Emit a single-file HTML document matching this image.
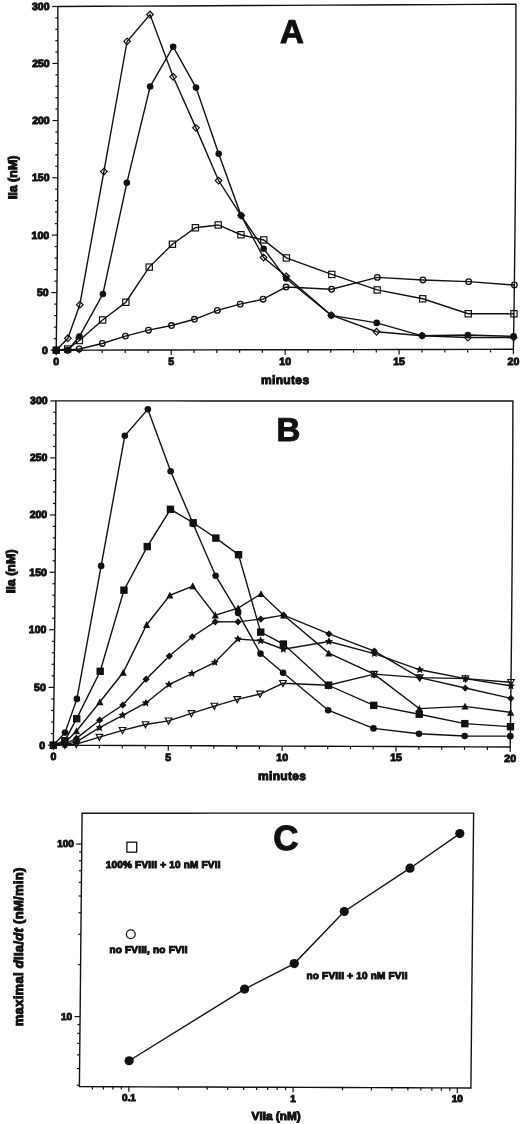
<!DOCTYPE html>
<html><head><meta charset="utf-8"><style>
html,body{margin:0;padding:0;background:#fff;}
body{width:520px;height:1124px;overflow:hidden;}
svg{display:block;filter:grayscale(1);}
svg text{font-family:"Liberation Sans",sans-serif;font-weight:bold;fill:#111;text-rendering:geometricPrecision;}
</style></head><body>
<svg width="520" height="1124" viewBox="0 0 520 1124" stroke="#111" stroke-linecap="butt" stroke-linejoin="miter">
<path d="M57.8,6.5 L96.21,6.31 L134.62,6.12 L173.02,5.93 L211.1,5.73 L249.18,5.54 L287.25,5.35 L325.29,5.16 L363.33,4.97 L401.38,4.77 L439.55,4.58 L477.72,4.39 L515.9,4.2 L515.94,32.77 L515.93,61.38 L515.88,90.02 L515.78,118.7 L515.64,147.41 L515.45,176.15 L515.22,204.93 L514.94,233.73 L514.62,262.57 L514.26,291.45 L513.85,320.36 L513.4,349.3 L475.3,349.38 L437.2,349.45 L399.1,349.52 L361.13,349.6 L323.17,349.68 L285.2,349.75 L247.2,349.82 L209.2,349.9 L171.2,349.98 L132.87,350.05 L94.53,350.12 L56.2,350.2 L56.58,321.38 L56.91,292.58 L57.2,263.82 L57.44,235.1 L57.64,206.41 L57.8,177.75 L57.91,149.12 L57.98,120.53 L58,91.98 L57.98,63.45 L57.91,34.96 Z" fill="none" stroke-width="1.4"/>
<line x1="50.7" y1="350.2" x2="56.2" y2="350.2" stroke-width="1.2"/>
<text x="47.9" y="353.6" font-size="10.5" text-anchor="end">0</text>
<line x1="53.76" y1="338.67" x2="56.36" y2="338.67" stroke-width="1.2"/>
<line x1="53.91" y1="327.14" x2="56.51" y2="327.14" stroke-width="1.2"/>
<line x1="54.05" y1="315.61" x2="56.65" y2="315.61" stroke-width="1.2"/>
<line x1="54.18" y1="304.1" x2="56.78" y2="304.1" stroke-width="1.2"/>
<line x1="51.41" y1="292.58" x2="56.91" y2="292.58" stroke-width="1.2"/>
<text x="48.61" y="295.98" font-size="10.5" text-anchor="end">50</text>
<line x1="54.43" y1="281.08" x2="57.03" y2="281.08" stroke-width="1.2"/>
<line x1="54.55" y1="269.57" x2="57.15" y2="269.57" stroke-width="1.2"/>
<line x1="54.65" y1="258.08" x2="57.25" y2="258.08" stroke-width="1.2"/>
<line x1="54.75" y1="246.59" x2="57.35" y2="246.59" stroke-width="1.2"/>
<line x1="51.94" y1="235.1" x2="57.44" y2="235.1" stroke-width="1.2"/>
<text x="49.14" y="238.5" font-size="10.5" text-anchor="end">100</text>
<line x1="54.93" y1="223.62" x2="57.53" y2="223.62" stroke-width="1.2"/>
<line x1="55.01" y1="212.14" x2="57.61" y2="212.14" stroke-width="1.2"/>
<line x1="55.08" y1="200.67" x2="57.68" y2="200.67" stroke-width="1.2"/>
<line x1="55.14" y1="189.21" x2="57.74" y2="189.21" stroke-width="1.2"/>
<line x1="52.3" y1="177.75" x2="57.8" y2="177.75" stroke-width="1.2"/>
<text x="49.5" y="181.15" font-size="10.5" text-anchor="end">150</text>
<line x1="55.25" y1="166.3" x2="57.85" y2="166.3" stroke-width="1.2"/>
<line x1="55.29" y1="154.85" x2="57.89" y2="154.85" stroke-width="1.2"/>
<line x1="55.33" y1="143.4" x2="57.93" y2="143.4" stroke-width="1.2"/>
<line x1="55.36" y1="131.97" x2="57.96" y2="131.97" stroke-width="1.2"/>
<line x1="52.48" y1="120.53" x2="57.98" y2="120.53" stroke-width="1.2"/>
<text x="49.68" y="123.93" font-size="10.5" text-anchor="end">200</text>
<line x1="55.39" y1="109.11" x2="57.99" y2="109.11" stroke-width="1.2"/>
<line x1="55.4" y1="97.68" x2="58" y2="97.68" stroke-width="1.2"/>
<line x1="55.4" y1="86.27" x2="58" y2="86.27" stroke-width="1.2"/>
<line x1="55.39" y1="74.86" x2="57.99" y2="74.86" stroke-width="1.2"/>
<line x1="52.48" y1="63.45" x2="57.98" y2="63.45" stroke-width="1.2"/>
<text x="49.68" y="66.85" font-size="10.5" text-anchor="end">250</text>
<line x1="55.36" y1="52.05" x2="57.96" y2="52.05" stroke-width="1.2"/>
<line x1="55.33" y1="40.65" x2="57.93" y2="40.65" stroke-width="1.2"/>
<line x1="55.29" y1="29.26" x2="57.89" y2="29.26" stroke-width="1.2"/>
<line x1="55.25" y1="17.88" x2="57.85" y2="17.88" stroke-width="1.2"/>
<line x1="52.3" y1="6.5" x2="57.8" y2="6.5" stroke-width="1.2"/>
<text x="49.5" y="9.9" font-size="10.5" text-anchor="end">300</text>
<line x1="56.2" y1="350.2" x2="56.2" y2="355.2" stroke-width="1.2"/>
<text x="56.2" y="365.4" font-size="10.5" text-anchor="middle">0</text>
<line x1="79.2" y1="350.15" x2="79.2" y2="353.15" stroke-width="1.2"/>
<line x1="102.2" y1="350.11" x2="102.2" y2="353.11" stroke-width="1.2"/>
<line x1="125.2" y1="350.06" x2="125.2" y2="353.06" stroke-width="1.2"/>
<line x1="148.2" y1="350.02" x2="148.2" y2="353.02" stroke-width="1.2"/>
<line x1="171.2" y1="349.98" x2="171.2" y2="354.98" stroke-width="1.2"/>
<text x="171.2" y="365.18" font-size="10.5" text-anchor="middle">5</text>
<line x1="194" y1="349.93" x2="194" y2="352.93" stroke-width="1.2"/>
<line x1="216.8" y1="349.88" x2="216.8" y2="352.88" stroke-width="1.2"/>
<line x1="239.6" y1="349.84" x2="239.6" y2="352.84" stroke-width="1.2"/>
<line x1="262.4" y1="349.8" x2="262.4" y2="352.8" stroke-width="1.2"/>
<line x1="285.2" y1="349.75" x2="285.2" y2="354.75" stroke-width="1.2"/>
<text x="285.2" y="364.95" font-size="10.5" text-anchor="middle">10</text>
<line x1="307.98" y1="349.7" x2="307.98" y2="352.7" stroke-width="1.2"/>
<line x1="330.76" y1="349.66" x2="330.76" y2="352.66" stroke-width="1.2"/>
<line x1="353.54" y1="349.62" x2="353.54" y2="352.62" stroke-width="1.2"/>
<line x1="376.32" y1="349.57" x2="376.32" y2="352.57" stroke-width="1.2"/>
<line x1="399.1" y1="349.52" x2="399.1" y2="354.52" stroke-width="1.2"/>
<text x="399.1" y="364.72" font-size="10.5" text-anchor="middle">15</text>
<line x1="421.96" y1="349.48" x2="421.96" y2="352.48" stroke-width="1.2"/>
<line x1="444.82" y1="349.44" x2="444.82" y2="352.44" stroke-width="1.2"/>
<line x1="467.68" y1="349.39" x2="467.68" y2="352.39" stroke-width="1.2"/>
<line x1="490.54" y1="349.35" x2="490.54" y2="352.35" stroke-width="1.2"/>
<line x1="513.4" y1="349.3" x2="513.4" y2="354.3" stroke-width="1.2"/>
<text x="513.4" y="364.5" font-size="10.5" text-anchor="middle">20</text>
<text x="285.2" y="383.8" font-size="12" text-anchor="middle" letter-spacing="0.35">minutes</text>
<text x="0" y="0" font-size="12.5" text-anchor="middle" transform="translate(16.8,177.4) rotate(-90)">IIa (nM)</text>
<text x="291.8" y="42.9" font-size="33" text-anchor="middle">A</text>
<path d="M56.2,350.2 L67.7,350.18 L79.22,349.01 L102.29,343.46 L125.4,336.08 L148.48,330.18 L171.54,325.55 L194.43,319.3 L217.34,310.42 L240.23,304.17 L263.1,299.18 L286.05,287.07 L331.6,289.25 L377.32,277.42 L422.94,279.94 L468.66,281.66 L514.35,285" fill="none" stroke-width="1.4"/>
<circle cx="56.2" cy="350.2" r="2.8" fill="none" stroke-width="1.3"/>
<circle cx="67.7" cy="350.18" r="2.8" fill="none" stroke-width="1.3"/>
<circle cx="79.22" cy="349.01" r="2.8" fill="none" stroke-width="1.3"/>
<circle cx="102.29" cy="343.46" r="2.8" fill="none" stroke-width="1.3"/>
<circle cx="125.4" cy="336.08" r="2.8" fill="none" stroke-width="1.3"/>
<circle cx="148.48" cy="330.18" r="2.8" fill="none" stroke-width="1.3"/>
<circle cx="171.54" cy="325.55" r="2.8" fill="none" stroke-width="1.3"/>
<circle cx="194.43" cy="319.3" r="2.8" fill="none" stroke-width="1.3"/>
<circle cx="217.34" cy="310.42" r="2.8" fill="none" stroke-width="1.3"/>
<circle cx="240.23" cy="304.17" r="2.8" fill="none" stroke-width="1.3"/>
<circle cx="263.1" cy="299.18" r="2.8" fill="none" stroke-width="1.3"/>
<circle cx="286.05" cy="287.07" r="2.8" fill="none" stroke-width="1.3"/>
<circle cx="331.6" cy="289.25" r="2.8" fill="none" stroke-width="1.3"/>
<circle cx="377.32" cy="277.42" r="2.8" fill="none" stroke-width="1.3"/>
<circle cx="422.94" cy="279.94" r="2.8" fill="none" stroke-width="1.3"/>
<circle cx="468.66" cy="281.66" r="2.8" fill="none" stroke-width="1.3"/>
<circle cx="514.35" cy="285" r="2.8" fill="none" stroke-width="1.3"/>
<path d="M56.2,350.2 L67.72,349.03 L79.33,340.53 L102.6,319.97 L125.82,302.26 L149.21,267.12 L172.44,244.24 L195.4,227.77 L218.24,224.94 L240.97,234.74 L263.73,239.95 L286.37,257.91 L331.77,274.44 L377.16,289.94 L422.7,298.79 L468.23,313.74 L513.95,313.75" fill="none" stroke-width="1.4"/>
<rect x="53.07" y="347.06" width="6.27" height="6.27" fill="none" stroke-width="1.2"/>
<rect x="64.58" y="345.9" width="6.27" height="6.27" fill="none" stroke-width="1.2"/>
<rect x="76.2" y="337.39" width="6.27" height="6.27" fill="none" stroke-width="1.2"/>
<rect x="99.47" y="316.83" width="6.27" height="6.27" fill="none" stroke-width="1.2"/>
<rect x="122.69" y="299.13" width="6.27" height="6.27" fill="none" stroke-width="1.2"/>
<rect x="146.08" y="263.99" width="6.27" height="6.27" fill="none" stroke-width="1.2"/>
<rect x="169.31" y="241.1" width="6.27" height="6.27" fill="none" stroke-width="1.2"/>
<rect x="192.26" y="224.63" width="6.27" height="6.27" fill="none" stroke-width="1.2"/>
<rect x="215.1" y="221.81" width="6.27" height="6.27" fill="none" stroke-width="1.2"/>
<rect x="237.83" y="231.61" width="6.27" height="6.27" fill="none" stroke-width="1.2"/>
<rect x="260.6" y="236.82" width="6.27" height="6.27" fill="none" stroke-width="1.2"/>
<rect x="283.24" y="254.78" width="6.27" height="6.27" fill="none" stroke-width="1.2"/>
<rect x="328.64" y="271.3" width="6.27" height="6.27" fill="none" stroke-width="1.2"/>
<rect x="374.03" y="286.81" width="6.27" height="6.27" fill="none" stroke-width="1.2"/>
<rect x="419.57" y="295.66" width="6.27" height="6.27" fill="none" stroke-width="1.2"/>
<rect x="465.09" y="310.61" width="6.27" height="6.27" fill="none" stroke-width="1.2"/>
<rect x="510.82" y="310.62" width="6.27" height="6.27" fill="none" stroke-width="1.2"/>
<path d="M56.2,350.2 L67.86,338.26 L79.78,304.78 L103.88,171.54 L127.05,41.46 L150.01,14.52 L173.17,76.8 L195.94,127.86 L218.54,180.54 L241.13,215.58 L263.57,257.51 L286.17,276.28 L331.26,315.21 L376.59,331.76 L422.18,335.69 L467.87,337.55 L513.59,337.45" fill="none" stroke-width="1.4"/>
<path d="M56.2,346.9 L59.5,350.2 L56.2,353.5 L52.9,350.2 Z" fill="none" stroke-width="1.2"/>
<path d="M67.86,334.96 L71.16,338.26 L67.86,341.56 L64.56,338.26 Z" fill="none" stroke-width="1.2"/>
<path d="M79.78,301.48 L83.08,304.78 L79.78,308.08 L76.48,304.78 Z" fill="none" stroke-width="1.2"/>
<path d="M103.88,168.24 L107.18,171.54 L103.88,174.84 L100.58,171.54 Z" fill="none" stroke-width="1.2"/>
<path d="M127.05,38.16 L130.35,41.46 L127.05,44.76 L123.75,41.46 Z" fill="none" stroke-width="1.2"/>
<path d="M150.01,11.22 L153.31,14.52 L150.01,17.82 L146.71,14.52 Z" fill="none" stroke-width="1.2"/>
<path d="M173.17,73.5 L176.47,76.8 L173.17,80.1 L169.87,76.8 Z" fill="none" stroke-width="1.2"/>
<path d="M195.94,124.56 L199.24,127.86 L195.94,131.16 L192.64,127.86 Z" fill="none" stroke-width="1.2"/>
<path d="M218.54,177.24 L221.84,180.54 L218.54,183.84 L215.24,180.54 Z" fill="none" stroke-width="1.2"/>
<path d="M241.13,212.28 L244.43,215.58 L241.13,218.88 L237.83,215.58 Z" fill="none" stroke-width="1.2"/>
<path d="M263.57,254.21 L266.87,257.51 L263.57,260.81 L260.27,257.51 Z" fill="none" stroke-width="1.2"/>
<path d="M286.17,272.98 L289.47,276.28 L286.17,279.58 L282.87,276.28 Z" fill="none" stroke-width="1.2"/>
<path d="M331.26,311.91 L334.56,315.21 L331.26,318.51 L327.96,315.21 Z" fill="none" stroke-width="1.2"/>
<path d="M376.59,328.46 L379.89,331.76 L376.59,335.06 L373.29,331.76 Z" fill="none" stroke-width="1.2"/>
<path d="M422.18,332.39 L425.48,335.69 L422.18,338.99 L418.88,335.69 Z" fill="none" stroke-width="1.2"/>
<path d="M467.87,334.25 L471.17,337.55 L467.87,340.85 L464.57,337.55 Z" fill="none" stroke-width="1.2"/>
<path d="M513.59,334.15 L516.89,337.45 L513.59,340.75 L510.29,337.45 Z" fill="none" stroke-width="1.2"/>
<path d="M56.2,350.2 L67.7,350.18 L79.39,336.52 L102.91,293.95 L126.84,182.81 L150.14,86.53 L173.14,46.75 L196.01,87.6 L218.68,153.7 L241.13,215.58 L263.65,248.68 L286.15,278.57 L331.26,315.44 L376.72,322.91 L422.17,335.8 L467.91,335.02 L513.61,336.3" fill="none" stroke-width="1.4"/>
<circle cx="56.2" cy="350.2" r="3.3" fill="#111" stroke="none"/>
<circle cx="67.7" cy="350.18" r="3.3" fill="#111" stroke="none"/>
<circle cx="79.39" cy="336.52" r="3.3" fill="#111" stroke="none"/>
<circle cx="102.91" cy="293.95" r="3.3" fill="#111" stroke="none"/>
<circle cx="126.84" cy="182.81" r="3.3" fill="#111" stroke="none"/>
<circle cx="150.14" cy="86.53" r="3.3" fill="#111" stroke="none"/>
<circle cx="173.14" cy="46.75" r="3.3" fill="#111" stroke="none"/>
<circle cx="196.01" cy="87.6" r="3.3" fill="#111" stroke="none"/>
<circle cx="218.68" cy="153.7" r="3.3" fill="#111" stroke="none"/>
<circle cx="241.13" cy="215.58" r="3.3" fill="#111" stroke="none"/>
<circle cx="263.65" cy="248.68" r="3.3" fill="#111" stroke="none"/>
<circle cx="286.15" cy="278.57" r="3.3" fill="#111" stroke="none"/>
<circle cx="331.26" cy="315.44" r="3.3" fill="#111" stroke="none"/>
<circle cx="376.72" cy="322.91" r="3.3" fill="#111" stroke="none"/>
<circle cx="422.17" cy="335.8" r="3.3" fill="#111" stroke="none"/>
<circle cx="467.91" cy="335.02" r="3.3" fill="#111" stroke="none"/>
<circle cx="513.61" cy="336.3" r="3.3" fill="#111" stroke="none"/>
<path d="M55.9,400.9 L94.22,400.91 L132.53,400.92 L170.85,400.92 L208.83,400.93 L246.82,400.94 L284.8,400.95 L322.75,400.96 L360.7,400.97 L398.65,400.98 L436.73,400.98 L474.82,400.99 L512.9,401 L512.83,429.59 L512.73,458.22 L512.6,486.9 L512.44,515.62 L512.26,544.39 L512.05,573.2 L511.81,602.06 L511.54,630.96 L511.25,659.9 L510.93,688.89 L510.58,717.92 L510.2,747 L472.13,746.85 L434.06,746.7 L395.99,746.55 L358.05,746.4 L320.11,746.25 L282.17,746.1 L244.2,745.95 L206.23,745.8 L168.26,745.65 L129.96,745.5 L91.65,745.35 L53.35,745.2 L53.72,716.26 L54.05,687.37 L54.36,658.52 L54.64,629.72 L54.9,600.96 L55.12,572.25 L55.32,543.58 L55.49,514.96 L55.64,486.38 L55.75,457.84 L55.84,429.35 Z" fill="none" stroke-width="1.4"/>
<line x1="47.85" y1="745.2" x2="53.35" y2="745.2" stroke-width="1.2"/>
<text x="45.05" y="748.6" font-size="10.5" text-anchor="end">0</text>
<line x1="50.9" y1="733.62" x2="53.5" y2="733.62" stroke-width="1.2"/>
<line x1="51.04" y1="722.05" x2="53.64" y2="722.05" stroke-width="1.2"/>
<line x1="51.19" y1="710.48" x2="53.79" y2="710.48" stroke-width="1.2"/>
<line x1="51.32" y1="698.92" x2="53.92" y2="698.92" stroke-width="1.2"/>
<line x1="48.55" y1="687.37" x2="54.05" y2="687.37" stroke-width="1.2"/>
<text x="45.75" y="690.77" font-size="10.5" text-anchor="end">50</text>
<line x1="51.58" y1="675.83" x2="54.18" y2="675.83" stroke-width="1.2"/>
<line x1="51.7" y1="664.29" x2="54.3" y2="664.29" stroke-width="1.2"/>
<line x1="51.82" y1="652.76" x2="54.42" y2="652.76" stroke-width="1.2"/>
<line x1="51.94" y1="641.24" x2="54.54" y2="641.24" stroke-width="1.2"/>
<line x1="49.14" y1="629.72" x2="54.64" y2="629.72" stroke-width="1.2"/>
<text x="46.34" y="633.12" font-size="10.5" text-anchor="end">100</text>
<line x1="52.15" y1="618.21" x2="54.75" y2="618.21" stroke-width="1.2"/>
<line x1="52.25" y1="606.71" x2="54.85" y2="606.71" stroke-width="1.2"/>
<line x1="52.35" y1="595.22" x2="54.95" y2="595.22" stroke-width="1.2"/>
<line x1="52.44" y1="583.73" x2="55.04" y2="583.73" stroke-width="1.2"/>
<line x1="49.62" y1="572.25" x2="55.12" y2="572.25" stroke-width="1.2"/>
<text x="46.83" y="575.65" font-size="10.5" text-anchor="end">150</text>
<line x1="52.61" y1="560.78" x2="55.21" y2="560.78" stroke-width="1.2"/>
<line x1="52.69" y1="549.31" x2="55.29" y2="549.31" stroke-width="1.2"/>
<line x1="52.76" y1="537.85" x2="55.36" y2="537.85" stroke-width="1.2"/>
<line x1="52.83" y1="526.4" x2="55.43" y2="526.4" stroke-width="1.2"/>
<line x1="49.99" y1="514.96" x2="55.49" y2="514.96" stroke-width="1.2"/>
<text x="47.19" y="518.36" font-size="10.5" text-anchor="end">200</text>
<line x1="52.95" y1="503.52" x2="55.55" y2="503.52" stroke-width="1.2"/>
<line x1="53.01" y1="492.09" x2="55.61" y2="492.09" stroke-width="1.2"/>
<line x1="53.06" y1="480.66" x2="55.66" y2="480.66" stroke-width="1.2"/>
<line x1="53.11" y1="469.25" x2="55.71" y2="469.25" stroke-width="1.2"/>
<line x1="50.25" y1="457.84" x2="55.75" y2="457.84" stroke-width="1.2"/>
<text x="47.45" y="461.24" font-size="10.5" text-anchor="end">250</text>
<line x1="53.19" y1="446.44" x2="55.79" y2="446.44" stroke-width="1.2"/>
<line x1="53.22" y1="435.04" x2="55.82" y2="435.04" stroke-width="1.2"/>
<line x1="53.25" y1="423.65" x2="55.85" y2="423.65" stroke-width="1.2"/>
<line x1="53.28" y1="412.27" x2="55.88" y2="412.27" stroke-width="1.2"/>
<line x1="50.4" y1="400.9" x2="55.9" y2="400.9" stroke-width="1.2"/>
<text x="47.6" y="404.3" font-size="10.5" text-anchor="end">300</text>
<line x1="53.35" y1="745.2" x2="53.35" y2="750.2" stroke-width="1.2"/>
<text x="53.35" y="760.1" font-size="10.5" text-anchor="middle">0</text>
<line x1="76.33" y1="745.29" x2="76.33" y2="748.29" stroke-width="1.2"/>
<line x1="99.31" y1="745.38" x2="99.31" y2="748.38" stroke-width="1.2"/>
<line x1="122.3" y1="745.47" x2="122.3" y2="748.47" stroke-width="1.2"/>
<line x1="145.28" y1="745.56" x2="145.28" y2="748.56" stroke-width="1.2"/>
<line x1="168.26" y1="745.65" x2="168.26" y2="750.65" stroke-width="1.2"/>
<text x="168.26" y="760.55" font-size="10.5" text-anchor="middle">5</text>
<line x1="191.04" y1="745.74" x2="191.04" y2="748.74" stroke-width="1.2"/>
<line x1="213.83" y1="745.83" x2="213.83" y2="748.83" stroke-width="1.2"/>
<line x1="236.61" y1="745.92" x2="236.61" y2="748.92" stroke-width="1.2"/>
<line x1="259.39" y1="746.01" x2="259.39" y2="749.01" stroke-width="1.2"/>
<line x1="282.17" y1="746.1" x2="282.17" y2="751.1" stroke-width="1.2"/>
<text x="282.17" y="761" font-size="10.5" text-anchor="middle">10</text>
<line x1="304.94" y1="746.19" x2="304.94" y2="749.19" stroke-width="1.2"/>
<line x1="327.7" y1="746.28" x2="327.7" y2="749.28" stroke-width="1.2"/>
<line x1="350.46" y1="746.37" x2="350.46" y2="749.37" stroke-width="1.2"/>
<line x1="373.22" y1="746.46" x2="373.22" y2="749.46" stroke-width="1.2"/>
<line x1="395.99" y1="746.55" x2="395.99" y2="751.55" stroke-width="1.2"/>
<text x="395.99" y="761.45" font-size="10.5" text-anchor="middle">15</text>
<line x1="418.83" y1="746.64" x2="418.83" y2="749.64" stroke-width="1.2"/>
<line x1="441.67" y1="746.73" x2="441.67" y2="749.73" stroke-width="1.2"/>
<line x1="464.51" y1="746.82" x2="464.51" y2="749.82" stroke-width="1.2"/>
<line x1="487.36" y1="746.91" x2="487.36" y2="749.91" stroke-width="1.2"/>
<line x1="510.2" y1="747" x2="510.2" y2="752" stroke-width="1.2"/>
<text x="510.2" y="761.9" font-size="10.5" text-anchor="middle">20</text>
<text x="282.17" y="780.2" font-size="12" text-anchor="middle" letter-spacing="0.35">minutes</text>
<text x="0" y="0" font-size="12.5" text-anchor="middle" transform="translate(14.6,571.3) rotate(-90)">IIa (nM)</text>
<text x="288.3" y="441" font-size="33" text-anchor="middle">B</text>
<path d="M53.35,745.2 L64.84,745.25 L76.35,744.14 L99.42,737.11 L122.49,730.31 L145.55,724.54 L168.58,720.83 L191.46,713.44 L214.33,706.05 L237.2,699.35 L260.04,694.02 L282.95,683.28 L328.46,685.27 L374.11,674.14 L419.68,677.62 L465.36,678.58 L511.01,682.3" fill="none" stroke-width="1.4"/>
<path d="M50.05,742.4 L56.65,742.4 L53.35,748.5 Z" fill="none" stroke-width="1.2"/>
<path d="M61.54,742.44 L68.14,742.44 L64.84,748.54 Z" fill="none" stroke-width="1.2"/>
<path d="M73.05,741.34 L79.65,741.34 L76.35,747.44 Z" fill="none" stroke-width="1.2"/>
<path d="M96.12,734.31 L102.72,734.31 L99.42,740.41 Z" fill="none" stroke-width="1.2"/>
<path d="M119.19,727.5 L125.79,727.5 L122.49,733.61 Z" fill="none" stroke-width="1.2"/>
<path d="M142.25,721.73 L148.85,721.73 L145.55,727.84 Z" fill="none" stroke-width="1.2"/>
<path d="M165.28,718.02 L171.88,718.02 L168.58,724.13 Z" fill="none" stroke-width="1.2"/>
<path d="M188.16,710.64 L194.76,710.64 L191.46,716.74 Z" fill="none" stroke-width="1.2"/>
<path d="M211.03,703.25 L217.63,703.25 L214.33,709.35 Z" fill="none" stroke-width="1.2"/>
<path d="M233.9,696.54 L240.5,696.54 L237.2,702.65 Z" fill="none" stroke-width="1.2"/>
<path d="M256.74,691.22 L263.34,691.22 L260.04,697.32 Z" fill="none" stroke-width="1.2"/>
<path d="M279.65,680.48 L286.25,680.48 L282.95,686.58 Z" fill="none" stroke-width="1.2"/>
<path d="M325.16,682.47 L331.76,682.47 L328.46,688.57 Z" fill="none" stroke-width="1.2"/>
<path d="M370.81,671.33 L377.41,671.33 L374.11,677.44 Z" fill="none" stroke-width="1.2"/>
<path d="M416.38,674.82 L422.98,674.82 L419.68,680.92 Z" fill="none" stroke-width="1.2"/>
<path d="M462.06,675.77 L468.66,675.77 L465.36,681.88 Z" fill="none" stroke-width="1.2"/>
<path d="M507.71,679.49 L514.31,679.49 L511.01,685.6 Z" fill="none" stroke-width="1.2"/>
<path d="M53.35,745.2 L64.85,744.67 L76.38,741.85 L99.54,727.7 L122.68,715.26 L145.82,702.94 L169.01,684.52 L191.92,673.56 L214.82,662.37 L237.85,638.98 L260.61,640.77 L283.32,649.23 L328.92,641.53 L374.33,653.64 L419.77,669.79 L465.36,678.58 L510.97,685.99" fill="none" stroke-width="1.4"/>
<path d="M53.35,740.91 L54.56,743.53 L57.43,743.87 L55.31,745.84 L55.87,748.67 L53.35,747.26 L50.83,748.67 L51.39,745.84 L49.27,743.87 L52.14,743.53 Z" fill="#111" stroke="none"/>
<path d="M64.85,740.38 L66.06,743.01 L68.93,743.35 L66.81,745.31 L67.37,748.14 L64.85,746.73 L62.33,748.14 L62.89,745.31 L60.77,743.35 L63.64,743.01 Z" fill="#111" stroke="none"/>
<path d="M76.38,737.56 L77.59,740.18 L80.46,740.52 L78.34,742.48 L78.9,745.32 L76.38,743.91 L73.86,745.32 L74.42,742.48 L72.3,740.52 L75.17,740.18 Z" fill="#111" stroke="none"/>
<path d="M99.54,723.41 L100.75,726.03 L103.62,726.37 L101.5,728.33 L102.07,731.17 L99.54,729.76 L97.02,731.17 L97.59,728.33 L95.46,726.37 L98.33,726.03 Z" fill="#111" stroke="none"/>
<path d="M122.68,710.97 L123.89,713.6 L126.76,713.94 L124.64,715.9 L125.2,718.73 L122.68,717.32 L120.16,718.73 L120.72,715.9 L118.6,713.94 L121.47,713.6 Z" fill="#111" stroke="none"/>
<path d="M145.82,698.65 L147.03,701.27 L149.9,701.61 L147.77,703.58 L148.34,706.41 L145.82,705 L143.29,706.41 L143.86,703.58 L141.74,701.61 L144.61,701.27 Z" fill="#111" stroke="none"/>
<path d="M169.01,680.23 L170.22,682.85 L173.09,683.19 L170.97,685.16 L171.53,687.99 L169.01,686.58 L166.49,687.99 L167.05,685.16 L164.93,683.19 L167.8,682.85 Z" fill="#111" stroke="none"/>
<path d="M191.92,669.27 L193.13,671.89 L196,672.23 L193.88,674.2 L194.44,677.03 L191.92,675.62 L189.4,677.03 L189.96,674.2 L187.84,672.23 L190.71,671.89 Z" fill="#111" stroke="none"/>
<path d="M214.82,658.08 L216.03,660.7 L218.9,661.04 L216.78,663 L217.35,665.84 L214.82,664.42 L212.3,665.84 L212.87,663 L210.74,661.04 L213.61,660.7 Z" fill="#111" stroke="none"/>
<path d="M237.85,634.69 L239.06,637.31 L241.93,637.65 L239.81,639.61 L240.37,642.45 L237.85,641.04 L235.33,642.45 L235.89,639.61 L233.77,637.65 L236.64,637.31 Z" fill="#111" stroke="none"/>
<path d="M260.61,636.48 L261.83,639.1 L264.69,639.44 L262.57,641.4 L263.14,644.24 L260.61,642.82 L258.09,644.24 L258.66,641.4 L256.53,639.44 L259.4,639.1 Z" fill="#111" stroke="none"/>
<path d="M283.32,644.94 L284.53,647.56 L287.4,647.9 L285.27,649.86 L285.84,652.7 L283.32,651.29 L280.79,652.7 L281.36,649.86 L279.24,647.9 L282.11,647.56 Z" fill="#111" stroke="none"/>
<path d="M328.92,637.24 L330.13,639.87 L333,640.21 L330.88,642.17 L331.45,645 L328.92,643.59 L326.4,645 L326.97,642.17 L324.84,640.21 L327.71,639.87 Z" fill="#111" stroke="none"/>
<path d="M374.33,649.35 L375.54,651.97 L378.41,652.31 L376.29,654.27 L376.85,657.11 L374.33,655.7 L371.81,657.11 L372.37,654.27 L370.25,652.31 L373.12,651.97 Z" fill="#111" stroke="none"/>
<path d="M419.77,665.5 L420.98,668.12 L423.85,668.46 L421.73,670.42 L422.29,673.26 L419.77,671.85 L417.25,673.26 L417.81,670.42 L415.69,668.46 L418.56,668.12 Z" fill="#111" stroke="none"/>
<path d="M465.36,674.29 L466.57,676.91 L469.44,677.25 L467.32,679.21 L467.88,682.05 L465.36,680.64 L462.84,682.05 L463.4,679.21 L461.28,677.25 L464.15,676.91 Z" fill="#111" stroke="none"/>
<path d="M510.97,681.7 L512.18,684.32 L515.05,684.66 L512.92,686.62 L513.49,689.46 L510.97,688.05 L508.44,689.46 L509.01,686.62 L506.89,684.66 L509.76,684.32 Z" fill="#111" stroke="none"/>
<path d="M53.35,745.2 L64.86,744.1 L76.42,738.4 L99.64,720.23 L122.81,705.04 L146.09,679.16 L169.32,656.02 L192.3,636.78 L215.22,621.78 L238.01,621.84 L260.82,619.03 L283.64,615.17 L329,633.94 L374.36,651.1 L419.68,677.62 L465.25,688.03 L510.82,698.33" fill="none" stroke-width="1.4"/>
<path d="M53.35,741.57 L56.98,745.2 L53.35,748.83 L49.72,745.2 Z" fill="#111" stroke="none"/>
<path d="M64.86,740.47 L68.49,744.1 L64.86,747.73 L61.23,744.1 Z" fill="#111" stroke="none"/>
<path d="M76.42,734.77 L80.05,738.4 L76.42,742.03 L72.79,738.4 Z" fill="#111" stroke="none"/>
<path d="M99.64,716.6 L103.27,720.23 L99.64,723.86 L96.01,720.23 Z" fill="#111" stroke="none"/>
<path d="M122.81,701.41 L126.44,705.04 L122.81,708.67 L119.18,705.04 Z" fill="#111" stroke="none"/>
<path d="M146.09,675.53 L149.72,679.16 L146.09,682.79 L142.46,679.16 Z" fill="#111" stroke="none"/>
<path d="M169.32,652.39 L172.95,656.02 L169.32,659.65 L165.69,656.02 Z" fill="#111" stroke="none"/>
<path d="M192.3,633.15 L195.93,636.78 L192.3,640.41 L188.67,636.78 Z" fill="#111" stroke="none"/>
<path d="M215.22,618.15 L218.85,621.78 L215.22,625.41 L211.59,621.78 Z" fill="#111" stroke="none"/>
<path d="M238.01,618.21 L241.64,621.84 L238.01,625.47 L234.38,621.84 Z" fill="#111" stroke="none"/>
<path d="M260.82,615.4 L264.45,619.03 L260.82,622.66 L257.19,619.03 Z" fill="#111" stroke="none"/>
<path d="M283.64,611.54 L287.27,615.17 L283.64,618.8 L280.01,615.17 Z" fill="#111" stroke="none"/>
<path d="M329,630.31 L332.63,633.94 L329,637.57 L325.37,633.94 Z" fill="#111" stroke="none"/>
<path d="M374.36,647.47 L377.99,651.1 L374.36,654.73 L370.73,651.1 Z" fill="#111" stroke="none"/>
<path d="M419.68,673.99 L423.31,677.62 L419.68,681.25 L416.05,677.62 Z" fill="#111" stroke="none"/>
<path d="M465.25,684.4 L468.88,688.03 L465.25,691.66 L461.62,688.03 Z" fill="#111" stroke="none"/>
<path d="M510.82,694.7 L514.45,698.33 L510.82,701.96 L507.19,698.33 Z" fill="#111" stroke="none"/>
<path d="M53.35,745.2 L64.87,742.95 L76.52,730.94 L99.86,701.98 L123.18,672.54 L146.64,624.71 L169.88,595.23 L192.74,585.98 L215.28,615.11 L238.13,608.16 L261.04,593.84 L283.64,615.17 L328.81,653.16 L374.11,674.14 L419.32,708.62 L465.04,706.36 L510.65,712.4" fill="none" stroke-width="1.4"/>
<path d="M53.35,741.57 L56.98,748.47 L49.72,748.47 Z" fill="#111" stroke="none"/>
<path d="M64.87,739.32 L68.5,746.22 L61.24,746.22 Z" fill="#111" stroke="none"/>
<path d="M76.52,727.31 L80.15,734.21 L72.89,734.21 Z" fill="#111" stroke="none"/>
<path d="M99.86,698.35 L103.49,705.24 L96.23,705.24 Z" fill="#111" stroke="none"/>
<path d="M123.18,668.91 L126.81,675.81 L119.55,675.81 Z" fill="#111" stroke="none"/>
<path d="M146.64,621.08 L150.27,627.97 L143.01,627.97 Z" fill="#111" stroke="none"/>
<path d="M169.88,591.6 L173.51,598.5 L166.25,598.5 Z" fill="#111" stroke="none"/>
<path d="M192.74,582.35 L196.37,589.25 L189.11,589.25 Z" fill="#111" stroke="none"/>
<path d="M215.28,611.48 L218.91,618.38 L211.65,618.38 Z" fill="#111" stroke="none"/>
<path d="M238.13,604.53 L241.76,611.42 L234.5,611.42 Z" fill="#111" stroke="none"/>
<path d="M261.04,590.21 L264.67,597.1 L257.41,597.1 Z" fill="#111" stroke="none"/>
<path d="M283.64,611.54 L287.27,618.44 L280.01,618.44 Z" fill="#111" stroke="none"/>
<path d="M328.81,649.53 L332.44,656.43 L325.18,656.43 Z" fill="#111" stroke="none"/>
<path d="M374.11,670.51 L377.74,677.4 L370.48,677.4 Z" fill="#111" stroke="none"/>
<path d="M419.32,704.99 L422.95,711.88 L415.69,711.88 Z" fill="#111" stroke="none"/>
<path d="M465.04,702.73 L468.67,709.62 L461.41,709.62 Z" fill="#111" stroke="none"/>
<path d="M510.65,708.77 L514.28,715.67 L507.02,715.67 Z" fill="#111" stroke="none"/>
<path d="M53.35,745.2 L64.9,740.65 L76.67,718.66 L100.2,671.32 L123.95,590.19 L147.26,546.59 L170.47,509.28 L193.18,522.76 L215.87,538.09 L238.55,554.69 L260.7,632.14 L283.37,644.05 L328.46,685.27 L373.75,705.35 L419.25,714.26 L464.82,723.65 L510.47,726.7" fill="none" stroke-width="1.4"/>
<rect x="49.65" y="741.5" width="7.39" height="7.39" fill="#111" stroke="none"/>
<rect x="61.21" y="736.96" width="7.39" height="7.39" fill="#111" stroke="none"/>
<rect x="72.98" y="714.96" width="7.39" height="7.39" fill="#111" stroke="none"/>
<rect x="96.51" y="667.62" width="7.39" height="7.39" fill="#111" stroke="none"/>
<rect x="120.26" y="586.49" width="7.39" height="7.39" fill="#111" stroke="none"/>
<rect x="143.56" y="542.89" width="7.39" height="7.39" fill="#111" stroke="none"/>
<rect x="166.77" y="505.59" width="7.39" height="7.39" fill="#111" stroke="none"/>
<rect x="189.48" y="519.07" width="7.39" height="7.39" fill="#111" stroke="none"/>
<rect x="212.18" y="534.39" width="7.39" height="7.39" fill="#111" stroke="none"/>
<rect x="234.85" y="550.99" width="7.39" height="7.39" fill="#111" stroke="none"/>
<rect x="257" y="628.44" width="7.39" height="7.39" fill="#111" stroke="none"/>
<rect x="279.67" y="640.35" width="7.39" height="7.39" fill="#111" stroke="none"/>
<rect x="324.76" y="681.58" width="7.39" height="7.39" fill="#111" stroke="none"/>
<rect x="370.05" y="701.65" width="7.39" height="7.39" fill="#111" stroke="none"/>
<rect x="415.55" y="710.57" width="7.39" height="7.39" fill="#111" stroke="none"/>
<rect x="461.12" y="719.95" width="7.39" height="7.39" fill="#111" stroke="none"/>
<rect x="506.77" y="723.01" width="7.39" height="7.39" fill="#111" stroke="none"/>
<path d="M53.35,745.2 L65.01,732.62 L76.91,698.91 L101.15,565.91 L124.79,435.83 L147.84,409.31 L170.65,471.25 L193.17,523.91 L215.61,575.68 L238.09,613.1 L260.49,653.65 L283.07,672.81 L328.16,710.25 L373.46,728.38 L419,733.74 L464.66,735.98 L510.35,736.16" fill="none" stroke-width="1.4"/>
<circle cx="53.35" cy="745.2" r="3.3" fill="#111" stroke="none"/>
<circle cx="65.01" cy="732.62" r="3.3" fill="#111" stroke="none"/>
<circle cx="76.91" cy="698.91" r="3.3" fill="#111" stroke="none"/>
<circle cx="101.15" cy="565.91" r="3.3" fill="#111" stroke="none"/>
<circle cx="124.79" cy="435.83" r="3.3" fill="#111" stroke="none"/>
<circle cx="147.84" cy="409.31" r="3.3" fill="#111" stroke="none"/>
<circle cx="170.65" cy="471.25" r="3.3" fill="#111" stroke="none"/>
<circle cx="193.17" cy="523.91" r="3.3" fill="#111" stroke="none"/>
<circle cx="215.61" cy="575.68" r="3.3" fill="#111" stroke="none"/>
<circle cx="238.09" cy="613.1" r="3.3" fill="#111" stroke="none"/>
<circle cx="260.49" cy="653.65" r="3.3" fill="#111" stroke="none"/>
<circle cx="283.07" cy="672.81" r="3.3" fill="#111" stroke="none"/>
<circle cx="328.16" cy="710.25" r="3.3" fill="#111" stroke="none"/>
<circle cx="373.46" cy="728.38" r="3.3" fill="#111" stroke="none"/>
<circle cx="419" cy="733.74" r="3.3" fill="#111" stroke="none"/>
<circle cx="464.66" cy="735.98" r="3.3" fill="#111" stroke="none"/>
<circle cx="510.35" cy="736.16" r="3.3" fill="#111" stroke="none"/>
<path d="M82.1,813.2 L114.72,813.19 L147.35,813.18 L179.97,813.18 L212.6,813.17 L245.22,813.16 L277.85,813.15 L310.48,813.14 L343.1,813.13 L375.73,813.12 L408.35,813.12 L440.98,813.11 L473.6,813.1 L473.38,836.01 L473.15,858.92 L472.93,881.83 L472.7,904.73 L472.48,927.64 L472.25,950.55 L472.02,973.46 L471.8,996.37 L471.57,1019.27 L471.35,1042.18 L471.12,1065.09 L470.9,1088 L438.27,1087.88 L405.65,1087.77 L373.02,1087.65 L340.4,1087.53 L307.77,1087.42 L275.15,1087.3 L242.52,1087.18 L209.9,1087.07 L177.28,1086.95 L144.65,1086.83 L112.03,1086.72 L79.4,1086.6 L79.62,1063.82 L79.85,1041.03 L80.08,1018.25 L80.3,995.47 L80.53,972.68 L80.75,949.9 L80.97,927.12 L81.2,904.33 L81.42,881.55 L81.65,858.77 L81.88,835.98 Z" fill="none" stroke-width="1.4"/>
<line x1="76.81" y1="1085.28" x2="79.41" y2="1085.28" stroke-width="1.2"/>
<line x1="76.98" y1="1068.55" x2="79.58" y2="1068.55" stroke-width="1.2"/>
<line x1="77.11" y1="1054.89" x2="79.71" y2="1054.89" stroke-width="1.2"/>
<line x1="77.23" y1="1043.34" x2="79.83" y2="1043.34" stroke-width="1.2"/>
<line x1="77.33" y1="1033.33" x2="79.93" y2="1033.33" stroke-width="1.2"/>
<line x1="77.41" y1="1024.5" x2="80.01" y2="1024.5" stroke-width="1.2"/>
<line x1="74.59" y1="1016.6" x2="80.09" y2="1016.6" stroke-width="1.2"/>
<text x="72.19" y="1020" font-size="10" text-anchor="end">10</text>
<line x1="78" y1="964.66" x2="80.6" y2="964.66" stroke-width="1.2"/>
<line x1="78.3" y1="934.27" x2="80.9" y2="934.27" stroke-width="1.2"/>
<line x1="78.52" y1="912.71" x2="81.12" y2="912.71" stroke-width="1.2"/>
<line x1="78.68" y1="895.98" x2="81.28" y2="895.98" stroke-width="1.2"/>
<line x1="78.82" y1="882.32" x2="81.42" y2="882.32" stroke-width="1.2"/>
<line x1="78.93" y1="870.77" x2="81.53" y2="870.77" stroke-width="1.2"/>
<line x1="79.03" y1="860.76" x2="81.63" y2="860.76" stroke-width="1.2"/>
<line x1="79.12" y1="851.93" x2="81.72" y2="851.93" stroke-width="1.2"/>
<line x1="76.3" y1="844.04" x2="81.8" y2="844.04" stroke-width="1.2"/>
<text x="73.9" y="847.44" font-size="10" text-anchor="end">100</text>
<line x1="92.4" y1="1086.65" x2="92.4" y2="1089.45" stroke-width="1.2"/>
<line x1="103.4" y1="1086.69" x2="103.4" y2="1089.49" stroke-width="1.2"/>
<line x1="112.92" y1="1086.72" x2="112.92" y2="1089.52" stroke-width="1.2"/>
<line x1="121.32" y1="1086.75" x2="121.32" y2="1089.55" stroke-width="1.2"/>
<line x1="128.84" y1="1086.78" x2="128.84" y2="1091.78" stroke-width="1.2"/>
<line x1="178.28" y1="1086.95" x2="178.28" y2="1089.75" stroke-width="1.2"/>
<line x1="207.2" y1="1087.06" x2="207.2" y2="1089.86" stroke-width="1.2"/>
<line x1="227.72" y1="1087.13" x2="227.72" y2="1089.93" stroke-width="1.2"/>
<line x1="243.63" y1="1087.19" x2="243.63" y2="1089.99" stroke-width="1.2"/>
<line x1="256.64" y1="1087.23" x2="256.64" y2="1090.03" stroke-width="1.2"/>
<line x1="267.63" y1="1087.27" x2="267.63" y2="1090.07" stroke-width="1.2"/>
<line x1="277.16" y1="1087.31" x2="277.16" y2="1090.11" stroke-width="1.2"/>
<line x1="285.56" y1="1087.34" x2="285.56" y2="1090.14" stroke-width="1.2"/>
<line x1="293.07" y1="1087.36" x2="293.07" y2="1092.36" stroke-width="1.2"/>
<line x1="342.51" y1="1087.54" x2="342.51" y2="1090.34" stroke-width="1.2"/>
<line x1="371.43" y1="1087.64" x2="371.43" y2="1090.44" stroke-width="1.2"/>
<line x1="391.95" y1="1087.72" x2="391.95" y2="1090.52" stroke-width="1.2"/>
<line x1="407.87" y1="1087.77" x2="407.87" y2="1090.57" stroke-width="1.2"/>
<line x1="420.87" y1="1087.82" x2="420.87" y2="1090.62" stroke-width="1.2"/>
<line x1="431.86" y1="1087.86" x2="431.86" y2="1090.66" stroke-width="1.2"/>
<line x1="441.39" y1="1087.89" x2="441.39" y2="1090.69" stroke-width="1.2"/>
<line x1="449.79" y1="1087.92" x2="449.79" y2="1090.72" stroke-width="1.2"/>
<line x1="457.3" y1="1087.95" x2="457.3" y2="1092.95" stroke-width="1.2"/>
<text x="128.84" y="1101.18" font-size="10" text-anchor="middle">0.1</text>
<text x="293.07" y="1101.76" font-size="10" text-anchor="middle">1</text>
<text x="457.3" y="1102.35" font-size="10" text-anchor="middle">10</text>
<text x="276.2" y="1119.7" font-size="11.8" text-anchor="middle">VIIa (nM)</text>
<text x="0" y="0" font-size="13" letter-spacing="0.3" text-anchor="middle" transform="translate(23.1,946.8) rotate(-90)">maximal <tspan font-style="italic">d</tspan>IIa/<tspan font-style="italic">dt</tspan> (nM/min)</text>
<text x="286" y="849.8" font-size="35" text-anchor="middle">C</text>
<path d="M129.1,1060.76 L244.6,989.12 L294.29,963.57 L344.24,911.52 L410.02,868.2 L459.8,833.57" fill="none" stroke-width="1.4"/>
<circle cx="129.1" cy="1060.76" r="4.6" fill="#111" stroke="none"/>
<circle cx="244.6" cy="989.12" r="4.6" fill="#111" stroke="none"/>
<circle cx="294.29" cy="963.57" r="4.6" fill="#111" stroke="none"/>
<circle cx="344.24" cy="911.52" r="4.6" fill="#111" stroke="none"/>
<circle cx="410.02" cy="868.2" r="4.6" fill="#111" stroke="none"/>
<circle cx="459.8" cy="833.57" r="4.6" fill="#111" stroke="none"/>
<rect x="126.9" y="842.2" width="9.8" height="10" fill="none" stroke-width="1.3"/>
<circle cx="130.8" cy="934.2" r="4.4" fill="none" stroke-width="1.3"/>
<text x="163.2" y="867.8" font-size="10" text-anchor="middle" letter-spacing="0.2">100% FVIII + 10 nM FVII</text>
<text x="148.6" y="952.5" font-size="10" text-anchor="middle" letter-spacing="0.2">no FVIII, no FVII</text>
<text x="357.1" y="979.4" font-size="10" text-anchor="middle" letter-spacing="0.2">no FVIII + 10 nM FVII</text>
</svg>
</body></html>
